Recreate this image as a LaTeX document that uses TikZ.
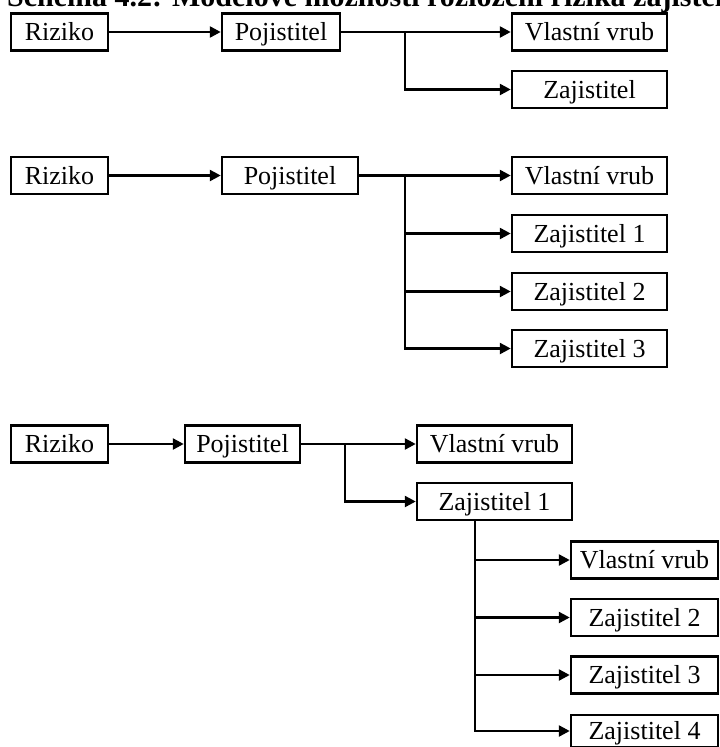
\documentclass[tikz,border=0pt]{standalone}
\usepackage{fontspec}
\setmainfont{Liberation Serif}
\usetikzlibrary{arrows.meta}
\begin{document}
\begin{tikzpicture}[x=1pt,y=-1pt,
  box/.style={draw, line width=2.5pt, inner sep=0pt, minimum height=37pt,
    text height=17pt, text depth=0pt, font=\fontsize{26}{29}\selectfont},
  arr/.style={line width=2.5pt, -{Triangle[length=11pt,width=11pt]}}]
\useasboundingbox (0,0) rectangle (720,747);
\clip (0,0) rectangle (720,747);
\fill[white] (0,0) rectangle (720,747);
% title (cut at top)
\node[anchor=base west, inner sep=0pt, font=\bfseries\fontsize{30}{32}\selectfont] (title) at (7,6) {Schéma 4.2: Modelové možnosti rozložení rizika zajištěním};
% diagram 1
\node[box, minimum width=97pt]  (r1) at (59.5,32) {Riziko};
\node[box, minimum width=118pt] (p1) at (281,32) {Pojistitel};
\node[box, minimum width=155pt] (v1) at (589.5,32) {Vlastní vrub};
\node[box, minimum width=155pt] (z1) at (589.5,89.5) {Zajistitel};
\coordinate (j1) at (405,32);
\draw[arr] (r1) -- (p1);
\draw[arr] (p1) -- (v1);
\draw[arr] (j1) |- (z1.west);
% diagram 2
\node[box, minimum width=97pt]  (r2) at (59.5,175.5) {Riziko};
\node[box, minimum width=136pt] (p2) at (290,175.5) {Pojistitel};
\node[box, minimum width=155pt] (v2) at (589.5,175.5) {Vlastní vrub};
\node[box, minimum width=155pt] (z21) at (589.5,233.5) {Zajistitel 1};
\node[box, minimum width=155pt] (z22) at (589.5,291.5) {Zajistitel 2};
\node[box, minimum width=155pt] (z23) at (589.5,348.5) {Zajistitel 3};
\coordinate (j2) at (405,175.5);
\draw[arr] (r2) -- (p2);
\draw[arr] (p2) -- (v2);
\draw[arr] (j2 |- z21.west) -- (z21.west);
\draw[arr] (j2 |- z22.west) -- (z22.west);
\draw[arr] (j2) |- (z23.west);
% diagram 3
\node[box, minimum width=97pt]  (r3) at (59.5,444) {Riziko};
\node[box, minimum width=115pt] (p3) at (242.5,444) {Pojistitel};
\node[box, minimum width=155pt] (v3) at (494.5,444) {Vlastní vrub};
\node[box, minimum width=155pt] (z31) at (494.5,501.5) {Zajistitel 1};
\node[box, minimum width=147pt] (v4) at (644.5,560) {Vlastní vrub};
\node[box, minimum width=147pt] (z32) at (644.5,617.5) {Zajistitel 2};
\node[box, minimum width=147pt] (z33) at (644.5,675) {Zajistitel 3};
\node[box, minimum width=147pt, minimum height=32pt] (z34) at (644.5,731) {Zajistitel 4};
\coordinate (j3) at (345,444);
\coordinate (k) at (475,732);
\draw[arr] (r3) -- (p3);
\draw[arr] (p3) -- (v3);
\draw[arr] (j3) |- (z31.west);
\draw[arr] (k |- v4.west) -- (v4.west);
\draw[arr] (k |- z32.west) -- (z32.west);
\draw[arr] (k |- z33.west) -- (z33.west);
\draw[arr] (z31.south -| k) |- (z34.west);
\end{tikzpicture}
\end{document}
